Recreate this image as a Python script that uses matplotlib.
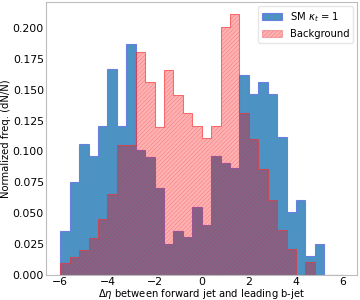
"""
Delta eta between forward jet and leading b-jet: signal vs background
"""
import matplotlib
matplotlib.use("Agg")
import matplotlib.pyplot as plt
import numpy as np

# bin edges: 30 bins of 0.4 from -6 to 6
bin_lo = -6.0
bin_hi = 6.0
n_bins = 30

# normalized heights (density, sum*0.4 = 1)
signal = [0.0359, 0.0757, 0.1060, 0.0964, 0.1208, 0.1665, 0.1208, 0.1867,
          0.1012, 0.0958, 0.0708, 0.0254, 0.0359, 0.0308, 0.0555, 0.0407,
          0.0964, 0.0910, 0.0864, 0.1614, 0.1464, 0.1563, 0.1464, 0.1114,
          0.0515, 0.0609, 0.0157, 0.0254, 0.0, 0.0]
background = [0.0103, 0.0152, 0.0206, 0.0302, 0.0453, 0.0655, 0.1052, 0.1052,
              0.1805, 0.1558, 0.1200, 0.1655, 0.1456, 0.1308, 0.1206, 0.1111,
              0.1206, 0.2004, 0.2106, 0.1308, 0.1104, 0.0858, 0.0609, 0.0363,
              0.0211, 0.0, 0.0106, 0.0, 0.0, 0.0]

labels = [r"SM $\kappa_t$ = 1", "Background"]


def main():
    edges = np.linspace(bin_lo, bin_hi, n_bins + 1)

    plt.rcParams["hatch.linewidth"] = 0.5

    fig, ax = plt.subplots(figsize=(3.6, 3.0), dpi=100)
    fig.subplots_adjust(left=0.128, right=0.9925, bottom=0.082, top=0.994)

    ax.stairs(signal, edges, fill=True, facecolor="tab:blue", edgecolor="#5a6ee0",
              linewidth=0.8, alpha=0.8, label=labels[0])
    ax.stairs(background, edges, fill=True, facecolor=(1.0, 0.0, 0.0, 0.3),
              edgecolor=(0.85, 0.15, 0.2, 0.3), hatch="////////", linewidth=0.8,
              label=labels[1])
    # outline of background
    ax.stairs(background, edges, fill=False, edgecolor=(1.0, 0.2, 0.2, 0.5),
              linewidth=0.7)

    ax.set_xlim(-6.6, 6.6)
    ax.set_ylim(0, 0.2208)
    ax.set_xticks([-6, -4, -2, 0, 2, 4, 6])
    ax.set_yticks(np.arange(0, 0.201, 0.025))
    ax.yaxis.set_major_formatter(matplotlib.ticker.FormatStrFormatter("%.3f"))
    ax.tick_params(length=0, pad=1.5, labelsize=7.8)
    for sp in ax.spines.values():
        sp.set_color("#bdbdbd")
        sp.set_linewidth(0.8)

    ax.set_xlabel(r"$\Delta\eta$ between forward jet and leading b-jet", fontsize=7.2, labelpad=0)
    ax.set_ylabel("Normalized freq. (dN/N)", fontsize=7.2, labelpad=1)
    ax.legend(loc="upper right", fontsize=7.2, framealpha=0.8, edgecolor="#e0e0e0",
              borderaxespad=0.4)

    plt.savefig("out.png", dpi=100)


if __name__ == "__main__":
    main()
